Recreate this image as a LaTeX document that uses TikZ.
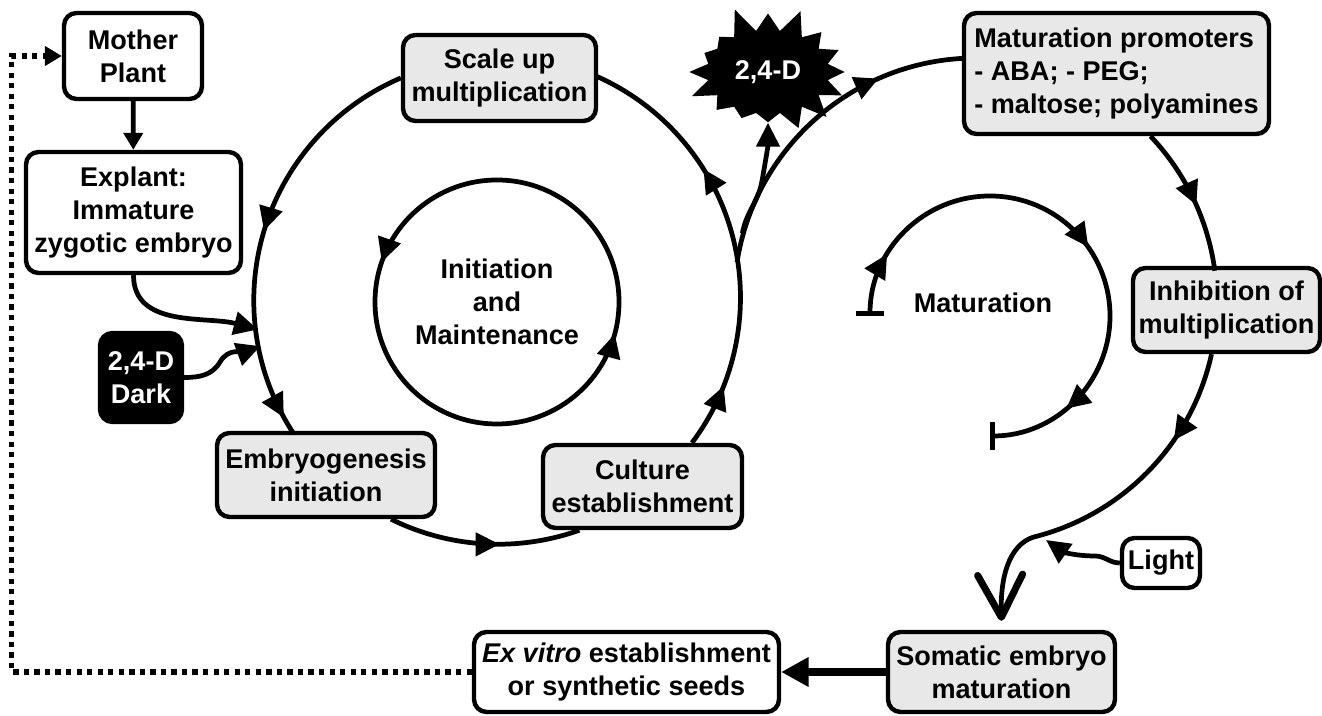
\documentclass[tikz,border=0pt]{standalone}
\usepackage{fontspec}
\setmainfont{Liberation Sans}
\usepackage{tikz}
\usetikzlibrary{positioning}
\usetikzlibrary{calc}
\usetikzlibrary{arrows.meta}
\usetikzlibrary{decorations.markings}
\usetikzlibrary{shapes.symbols}
\definecolor{boxgray}{RGB}{232,232,232}
\tikzset{%
  flow/.style = {line width=2.7pt},
  arr/.style = {line width=2.7pt,-{Triangle[length=0.48cm,width=0.46cm]}},
  smallarr/.style = {line width=2.7pt,-{Triangle[length=0.34cm,width=0.38cm]}},
  mid/.style = {postaction={decorate,decoration={markings,
        mark=at position #1 with {\arrow{Triangle[length=0.48cm,width=0.46cm]}}}}},
  w/.style = {rectangle,draw,fill=white,line width=2.5pt,rounded corners=0.25cm,
        align=center,inner sep=0pt,font=\bfseries\fontsize{15.4}{18.8}\selectfont},
  g/.style = {w,fill=boxgray},
  k/.style = {w,fill=black,text=white},
  lbl/.style = {align=center,font=\bfseries\fontsize{15.4}{18.8}\selectfont},
  burst/.style = {starburst,starburst points=16,starburst point height=0.55cm,
        random starburst=5,fill=black,text=white,inner xsep=0.2cm,inner ysep=0.36cm,
        font=\bfseries\fontsize{15.4}{18.8}\selectfont}
}
\begin{document}
\begin{tikzpicture}[x=0.02cm,y=0.02cm]
    \useasboundingbox (0,0) rectangle (1322,716);
    \node[w,minimum width=2.76cm,minimum height=1.72cm] (mother) at (133,660) {Mother\\Plant};
    \node[w,minimum width=4.3cm,minimum height=2.42cm] (explant) at (133.5,503.5) {Explant:\\Immature\\zygotic embryo};
    \node[k,minimum width=1.64cm,minimum height=1.78cm] (dark) at (141,338.5) {2,4-D\\Dark};
    \node[g,minimum width=3.86cm,minimum height=1.72cm] (scaleup) at (499.5,638) {Scale up\\multiplication};
    \node[g,minimum width=4.36cm,minimum height=1.68cm] (embryo) at (326,241) {Embryogenesis\\initiation};
    \node[g,minimum width=3.98cm,minimum height=1.66cm] (culture) at (642.5,229.5) {Culture\\establishment};
    \node[g,minimum width=6.1cm,minimum height=2.42cm,align=left] (promoters) at (1116.5,642.5) {Maturation promoters\\- ABA; - PEG;\\- maltose; polyamines};
    \node[g,minimum width=3.74cm,minimum height=1.68cm] (inhibition) at (1226.5,406) {Inhibition of\\multiplication};
    \node[w,minimum width=1.56cm,minimum height=1.0cm] (light) at (1161,153) {Light};
    \node[g,minimum width=4.54cm,minimum height=1.6cm] (somatic) at (1001.5,44) {Somatic embryo\\maturation};
    \node[w,minimum width=6.1cm,minimum height=1.6cm] (exvitro) at (626.5,44) {\textit{Ex vitro} establishment\\or synthetic seeds};
    \node[burst] (star) at (768,644) {2,4-D};
    \node[lbl] (matlabel) at (983,413) {Maturation};
    \node[lbl] (initlabel) at (497,414) {Initiation\\and\\Maintenance};

    \coordinate (L) at (498,416);
    \coordinate (R) at (975,416);
    \coordinate (IC) at (497,414);
    \coordinate (M) at (990,400);
    \coordinate (J) at ($(L)+(9:242)$);
    \coordinate (W) at ($(R)+(164:242)$);
    \coordinate (explin) at ($(L)+(187:242)$);
    \coordinate (darkin) at ($(L)+(191:242)$);
    \coordinate (lightin) at (1046,176);

    \draw[flow,mid=0.5,mid=0.955] (scaleup.west) arc[start angle=113.1,end angle=213.4,radius=242];
    \draw[flow,mid=0.58] ([xshift=1.3cm]embryo.south) arc[start angle=243.7,end angle=289.6,radius=242];
    \draw[flow,mid=0.15,mid=0.67] ([xshift=0.99cm]culture.north) arc[start angle=-36.9,end angle=66.1,radius=242];
    \draw[flow,mid=0.447,mid=0.958] ($(IC)+(0:122)$) arc[start angle=0,end angle=360,radius=122];

    \draw[flow,mid=0.73] (J) arc[start angle=171,end angle=92.6,radius=242];
    \draw[flow,mid=0.55] ([xshift=0.68cm]promoters.south) arc[start angle=43.5,end angle=7.6,radius=242];
    \draw[flow,mid=0.26,-{Straight Barb[length=0.85cm,width=0.9cm,line width=4pt,round]}]
        ([xshift=-0.3cm]inhibition.south) arc[start angle=-12.4,end angle=-75,radius=242]
        .. controls (1012,175) and (1000,145) .. ([yshift=0.18cm]somatic.north);
    \draw[flow,mid=0.115,mid=0.537,mid=0.854,{Bar[width=0.55cm]}-{Bar[width=0.55cm]}]
        ($(M)+(180:120)$) arc[start angle=180,end angle=-90,radius=120];

    \draw[smallarr] (mother) -- (explant);
    \draw[arr] (explant.south) to[out=-90,in=165] (explin);
    \draw[arr] (dark.east) to[out=0,in=-120] (220,354) to[out=60,in=200] (darkin);
    \draw[arr] (W) to[out=80,in=-100] (762,535) to[out=80,in=-90] (star.south);
    \draw[arr] (light.west) to[out=180,in=0] (1095,160) to[out=180,in=-35] (lightin);
    \draw[line width=4pt,-{Triangle[length=0.55cm,width=0.56cm]}] (somatic) -- (exvitro);
    \draw[line width=3pt,dash pattern=on 3pt off 3pt,-{Triangle[length=0.34cm,width=0.38cm]}]
        (exvitro.west) -| ([xshift=-1cm]mother.west) -- (mother.west);
\end{tikzpicture}
\end{document}
